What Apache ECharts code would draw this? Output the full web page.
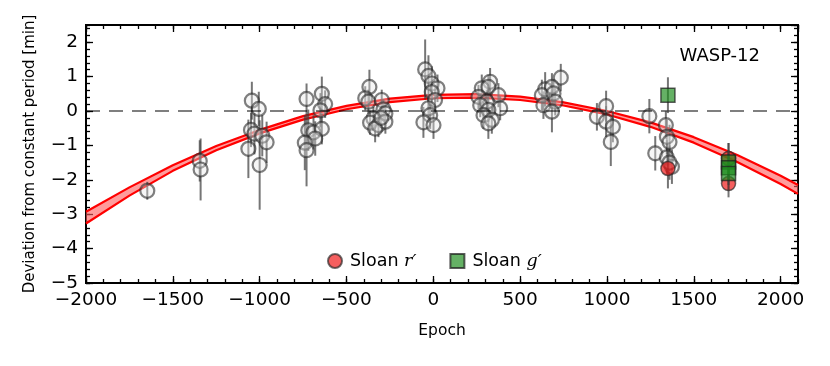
<!DOCTYPE html>
<html>
<head>
<meta charset="utf-8">
<script src="https://cdn.jsdelivr.net/npm/echarts@6/dist/echarts.min.js"></script>
<style>html,body{margin:0;padding:0;background:#fff;}#c{width:830px;height:366px;}</style>
</head>
<body>
<div id="c"></div>
<script>
// Open circles (literature timings)
const openEpochs = [-1647,-1345,-1340,
 -1045,-1005,-1050,-1030,-1065,-1000,-985,-960,
 -730,-642,-623,-650,-720,-690,-642,-680,-740,-730,
 -368,-392,-374,-297,-287,-276,-345,-364,-316,-276,-335,-300,
 -47,-28,-9,24,-9,10,-28,-18,-57,1,
 327,279,317,375,260,308,270,385,317,289,337,317,
 734,644,683,625,692,702,634,683,
 995,942,995,1034,1022,
 1244,1278,1339,1345,1360,1345,1374,1360];
const openValues = [-2.32,-1.45,-1.70,
 0.30,0.06,-0.55,-0.66,-1.10,-1.57,-0.72,-0.91,
 0.35,0.50,0.20,0.02,-0.56,-0.62,-0.52,-0.80,-0.92,-1.14,
 0.70,0.37,0.27,0.32,0.05,-0.07,-0.22,-0.34,-0.41,-0.31,-0.51,-0.20,
 1.21,1.02,0.80,0.66,0.55,0.32,0.08,-0.12,-0.33,-0.41,
 0.85,0.66,0.70,0.46,0.41,0.27,0.17,0.08,0.03,-0.12,-0.26,-0.36,
 0.97,0.63,0.70,0.46,0.51,0.27,0.17,-0.02,
 0.14,-0.17,-0.31,-0.46,-0.90,
 -0.15,-1.23,-0.41,-0.75,-0.90,-1.35,-1.62,-1.50];
const openErrors = [0.26,0.6,0.9,
 0.55,0.5,0.5,0.6,0.85,1.3,0.6,0.6,
 0.45,0.5,0.4,0.5,0.6,0.5,0.45,0.5,0.8,1.05,
 0.5,0.35,0.35,0.3,0.3,0.3,0.35,0.35,0.35,0.35,0.4,0.3,
 0.87,0.6,0.5,0.4,0.4,0.4,0.4,0.4,0.45,0.4,
 0.4,0.4,0.35,0.35,0.35,0.35,0.35,0.35,0.35,0.4,0.4,0.45,
 0.4,0.5,0.4,0.45,0.4,0.4,0.4,0.6,
 0.45,0.4,0.45,0.45,0.7,
 0.5,0.5,0.4,0.5,0.5,0.5,0.5,0.5];
// Sloan r'
const rEpochs = [1351,1700,1700];
const rValues = [-1.67,-1.38,-2.11];
const rErrors = [0.58,0.45,0.4];
// Sloan g'
const gEpochs = [1351,1700,1700,1700];
const gValues = [0.46,-1.48,-1.65,-1.82];
const gErrors = [0.52,0.55,0.5,0.5];
// Fit band
const fitEpochs = [-2000,-1750,-1500,-1250,-1000,-750,-500,-250,0,250,500,750,1000,1250,1500,1750,2000,2100];
const fitLower = [-3.27,-2.46,-1.74,-1.14,-0.65,-0.25,0.05,0.26,0.37,0.39,0.32,0.16,-0.10,-0.46,-0.92,-1.48,-2.12,-2.41];
const fitUpper = [-2.93,-2.22,-1.58,-1.02,-0.55,-0.15,0.15,0.36,0.47,0.49,0.42,0.25,0.00,-0.33,-0.76,-1.28,-1.88,-2.15];
const zeroLine = 0;
const xRange = [-2000, 2100], xMajor = 500, xMinor = 100;
const yRange = [-5, 2.5], yMajor = 1, yMinor = 0.2;

const FONT = 'DejaVu Sans';
const fmt = v => (v < 0 ? '\u2212' + Math.abs(v) : String(v));
const zip3 = (a, b, c) => a.map((x, i) => [x, b[i], c[i]]);
const zip2 = (a, b) => a.map((x, i) => [x, b[i]]);

function errRender(params, api) {
  const x = api.value(0), y = api.value(1), e = api.value(2);
  const p1 = api.coord([x, y - e]), p2 = api.coord([x, y + e]);
  return {type: 'line', shape: {x1: p1[0], y1: p1[1], x2: p2[0], y2: p2[1]},
    style: {stroke: 'rgba(60,60,60,0.7)', lineWidth: 2}};
}
function bandRender(params, api) {
  if (params.dataIndex !== 0) return null;
  const pts = [];
  fitEpochs.forEach((x, i) => pts.push(api.coord([x, fitUpper[i]])));
  for (let i = fitEpochs.length - 1; i >= 0; i--) pts.push(api.coord([fitEpochs[i], fitLower[i]]));
  return {type: 'polygon', shape: {points: pts}, style: {fill: 'rgba(255,90,90,0.6)'}};
}

function xAx(pos, major, showLabel) {
  return {type: 'value', min: xRange[0], max: xRange[1], interval: major ? xMajor : xMinor, position: pos,
    axisLine: {show: false, onZero: false}, splitLine: {show: false},
    axisTick: {inside: true, length: major ? 7 : 4, lineStyle: {color: '#000', width: 1.3}},
    axisLabel: {show: showLabel, showMaxLabel: false, formatter: fmt, fontFamily: FONT, fontSize: 18.5, color: '#000', margin: 8},
    name: showLabel ? 'Epoch' : '', nameLocation: 'middle', nameGap: 40,
    nameTextStyle: {fontFamily: FONT, fontSize: 15.5, color: '#000'}};
}
function yAx(pos, major, showLabel) {
  return {type: 'value', min: yRange[0], max: yRange[1], interval: major ? yMajor : yMinor, position: pos,
    axisLine: {show: false, onZero: false}, splitLine: {show: false},
    axisTick: {inside: true, length: major ? 7 : 4, lineStyle: {color: '#000', width: 1.3}},
    axisLabel: {show: showLabel, showMaxLabel: false, formatter: fmt, fontFamily: FONT, fontSize: 18.5, color: '#000', margin: 8},
    name: showLabel ? 'Deviation from constant period [min]' : '', nameLocation: 'middle', nameGap: 48,
    nameTextStyle: {fontFamily: FONT, fontSize: 15, color: '#000'}};
}

const chart = echarts.init(document.getElementById('c'), null, {renderer: 'canvas'});
chart.setOption({
  animation: false,
  backgroundColor: '#fff',
  grid: {left: 86, right: 32, top: 25, bottom: 83, show: true, borderColor: '#000', borderWidth: 2, backgroundColor: 'transparent'},
  title: {text: 'WASP-12', right: 65, top: 42, textStyle: {fontFamily: FONT, fontSize: 18, fontWeight: 'normal', color: '#000'}},
  legend: {data: ['r', 'g'], left: 322, top: 247, itemWidth: 14, itemHeight: 14, itemGap: 33,
    formatter: n => 'Sloan {i|' + n + '\u2032}',
    textStyle: {fontFamily: FONT, fontSize: 17.5, color: '#000', padding: [0, 0, 0, 3],
      rich: {i: {fontFamily: 'DejaVu Serif', fontStyle: 'italic', fontSize: 17.5, color: '#000'}}}},
  xAxis: [xAx('bottom', true, true), xAx('bottom', false, false), xAx('top', true, false), xAx('top', false, false)],
  yAxis: [yAx('left', true, true), yAx('left', false, false), yAx('right', true, false), yAx('right', false, false)],
  series: [
    {type: 'custom', name: 'band', renderItem: bandRender, data: zip3(fitEpochs, fitLower, fitUpper),
      encode: {x: 0, y: [1, 2]}, z: 1, silent: true},
    {type: 'line', name: 'fitLow', data: zip2(fitEpochs, fitLower), showSymbol: false, symbol: 'none',
      lineStyle: {color: '#ff0000', width: 2.2}, z: 2, silent: true,
      markLine: {symbol: 'none', silent: true, label: {show: false},
        lineStyle: {color: 'rgba(0,0,0,0.5)', type: [14, 9], width: 2}, data: [{yAxis: zeroLine}]}},
    {type: 'line', name: 'fitHigh', data: zip2(fitEpochs, fitUpper), showSymbol: false, symbol: 'none',
      lineStyle: {color: '#ff0000', width: 2.2}, z: 2, silent: true},
    {type: 'custom', name: 'errOpen', renderItem: errRender, data: zip3(openEpochs, openValues, openErrors),
      encode: {x: 0, y: 1}, z: 3},
    {type: 'scatter', name: 'open', data: zip2(openEpochs, openValues), symbol: 'circle', symbolSize: 14,
      itemStyle: {color: 'rgba(230,230,230,0.45)', borderColor: 'rgba(35,35,35,0.72)', borderWidth: 2.2}, z: 4},
    {type: 'custom', name: 'errR', renderItem: errRender, data: zip3(rEpochs, rValues, rErrors),
      encode: {x: 0, y: 1}, z: 5},
    {type: 'scatter', name: 'r', data: zip2(rEpochs, rValues), symbol: 'circle', symbolSize: 14,
      itemStyle: {color: 'rgba(240,20,20,0.85)', borderColor: 'rgba(40,40,40,0.85)', borderWidth: 1.5}, z: 6},
    {type: 'custom', name: 'errG', renderItem: errRender, data: zip3(gEpochs, gValues, gErrors),
      encode: {x: 0, y: 1}, z: 7},
    {type: 'scatter', name: 'g', data: zip2(gEpochs, gValues), symbol: 'rect', symbolSize: 14,
      itemStyle: {color: 'rgba(30,140,30,0.85)', borderColor: 'rgba(30,30,30,0.9)', borderWidth: 1.5}, z: 8}
  ]
});
</script>
</body>
</html>
